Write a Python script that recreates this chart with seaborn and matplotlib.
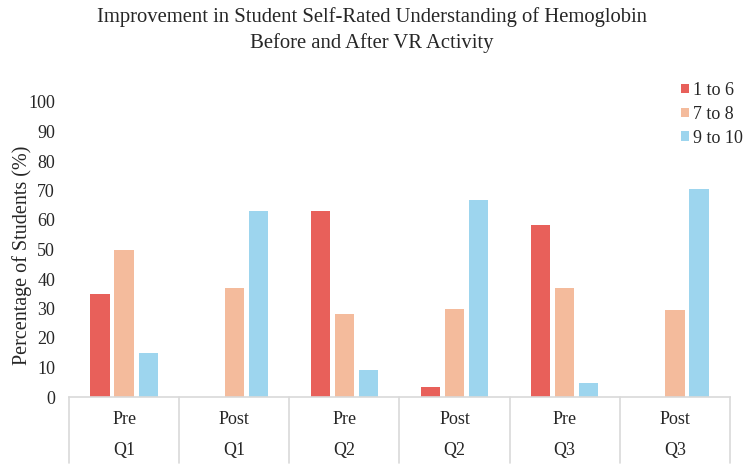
import matplotlib
matplotlib.use("Agg")
import matplotlib.pyplot as plt
import matplotlib.transforms as mtransforms
import seaborn as sns
import pandas as pd

# ---- data ----
phases = ["Pre", "Post", "Pre", "Post", "Pre", "Post"]
questions = ["Q1", "Q1", "Q2", "Q2", "Q3", "Q3"]
series = ["1 to 6", "7 to 8", "9 to 10"]
low = [35, 0, 63, 3.3, 58.3, 0]
mid = [50, 37, 28, 30, 37, 29.4]
high = [15, 63, 9, 66.7, 4.7, 70.6]
colors = ["#E8605A", "#F4BB9C", "#9DD5EE"]
yticks = list(range(0, 101, 10))

cats = [f"{p} {q}" for p, q in zip(phases, questions)]
rows = []
for s, vals in zip(series, [low, mid, high]):
    for c, v in zip(cats, vals):
        rows.append({"cat": c, "series": s, "value": v})
df = pd.DataFrame(rows)

sns.set_theme(style="white")
plt.rcParams["font.family"] = ["Liberation Serif", "DejaVu Serif"]

fig = plt.figure(figsize=(7.44, 4.66), dpi=100)
ax = fig.add_axes([69 / 744, (466 - 397) / 466, (730 - 69) / 744, (397 - 102) / 466])

sns.barplot(data=df, x="cat", y="value", hue="series", order=cats,
            hue_order=series, palette=colors, width=0.655, gap=0.2,
            saturation=1, edgecolor="none", linewidth=0, ax=ax)

txt = "#262626"
ax.set_ylim(0, 100)
ax.set_xlim(-0.5, len(cats) - 0.5)
ax.set_yticks(yticks)
ax.set_yticklabels([str(t) for t in yticks], fontsize=13, color=txt)
ax.tick_params(axis="y", length=0, pad=10)
ax.set_xticks([])
ax.set_xlabel("")
ax.set_ylabel("")
for sp in ["top", "right", "left"]:
    ax.spines[sp].set_visible(False)
ax.spines["bottom"].set_color("#D9D9D9")
ax.spines["bottom"].set_linewidth(1.2)

fig.text(22 / 744, 1 - 255 / 466, "Percentage of Students (%)", rotation=90,
         ha="center", va="center", fontsize=14.5, color=txt)

trans = mtransforms.blended_transform_factory(ax.transData, ax.transAxes)
h_px = 397 - 102
line_bottom = -(463 - 397) / h_px
for i in range(len(cats) + 1):
    ax.plot([i - 0.5, i - 0.5], [0, line_bottom], color="#D9D9D9", lw=1.2,
            transform=trans, clip_on=False)
for i, (p, q) in enumerate(zip(phases, questions)):
    ax.text(i, -(419 - 397) / h_px, p, transform=trans, ha="center", va="center",
            fontsize=13, color=txt)
    ax.text(i, -(451 - 397) / h_px, q, transform=trans, ha="center", va="center",
            fontsize=13, color=txt)

fig.text(0.5, 1 - 17 / 466, "Improvement in Student Self-Rated Understanding of Hemoglobin",
         ha="center", va="center", fontsize=14.9, color=txt)
fig.text(0.5, 1 - 43 / 466, "Before and After VR Activity",
         ha="center", va="center", fontsize=14.9, color=txt)

ax.legend(loc="upper left", bbox_to_anchor=(681 / 744, 1 - 82 / 466),
          bbox_transform=fig.transFigure, frameon=False, fontsize=13,
          handlelength=0.45, handleheight=0.45, handletextpad=0.2,
          labelspacing=0.38, borderaxespad=0, borderpad=0)

fig.savefig("out.png", dpi=100)
